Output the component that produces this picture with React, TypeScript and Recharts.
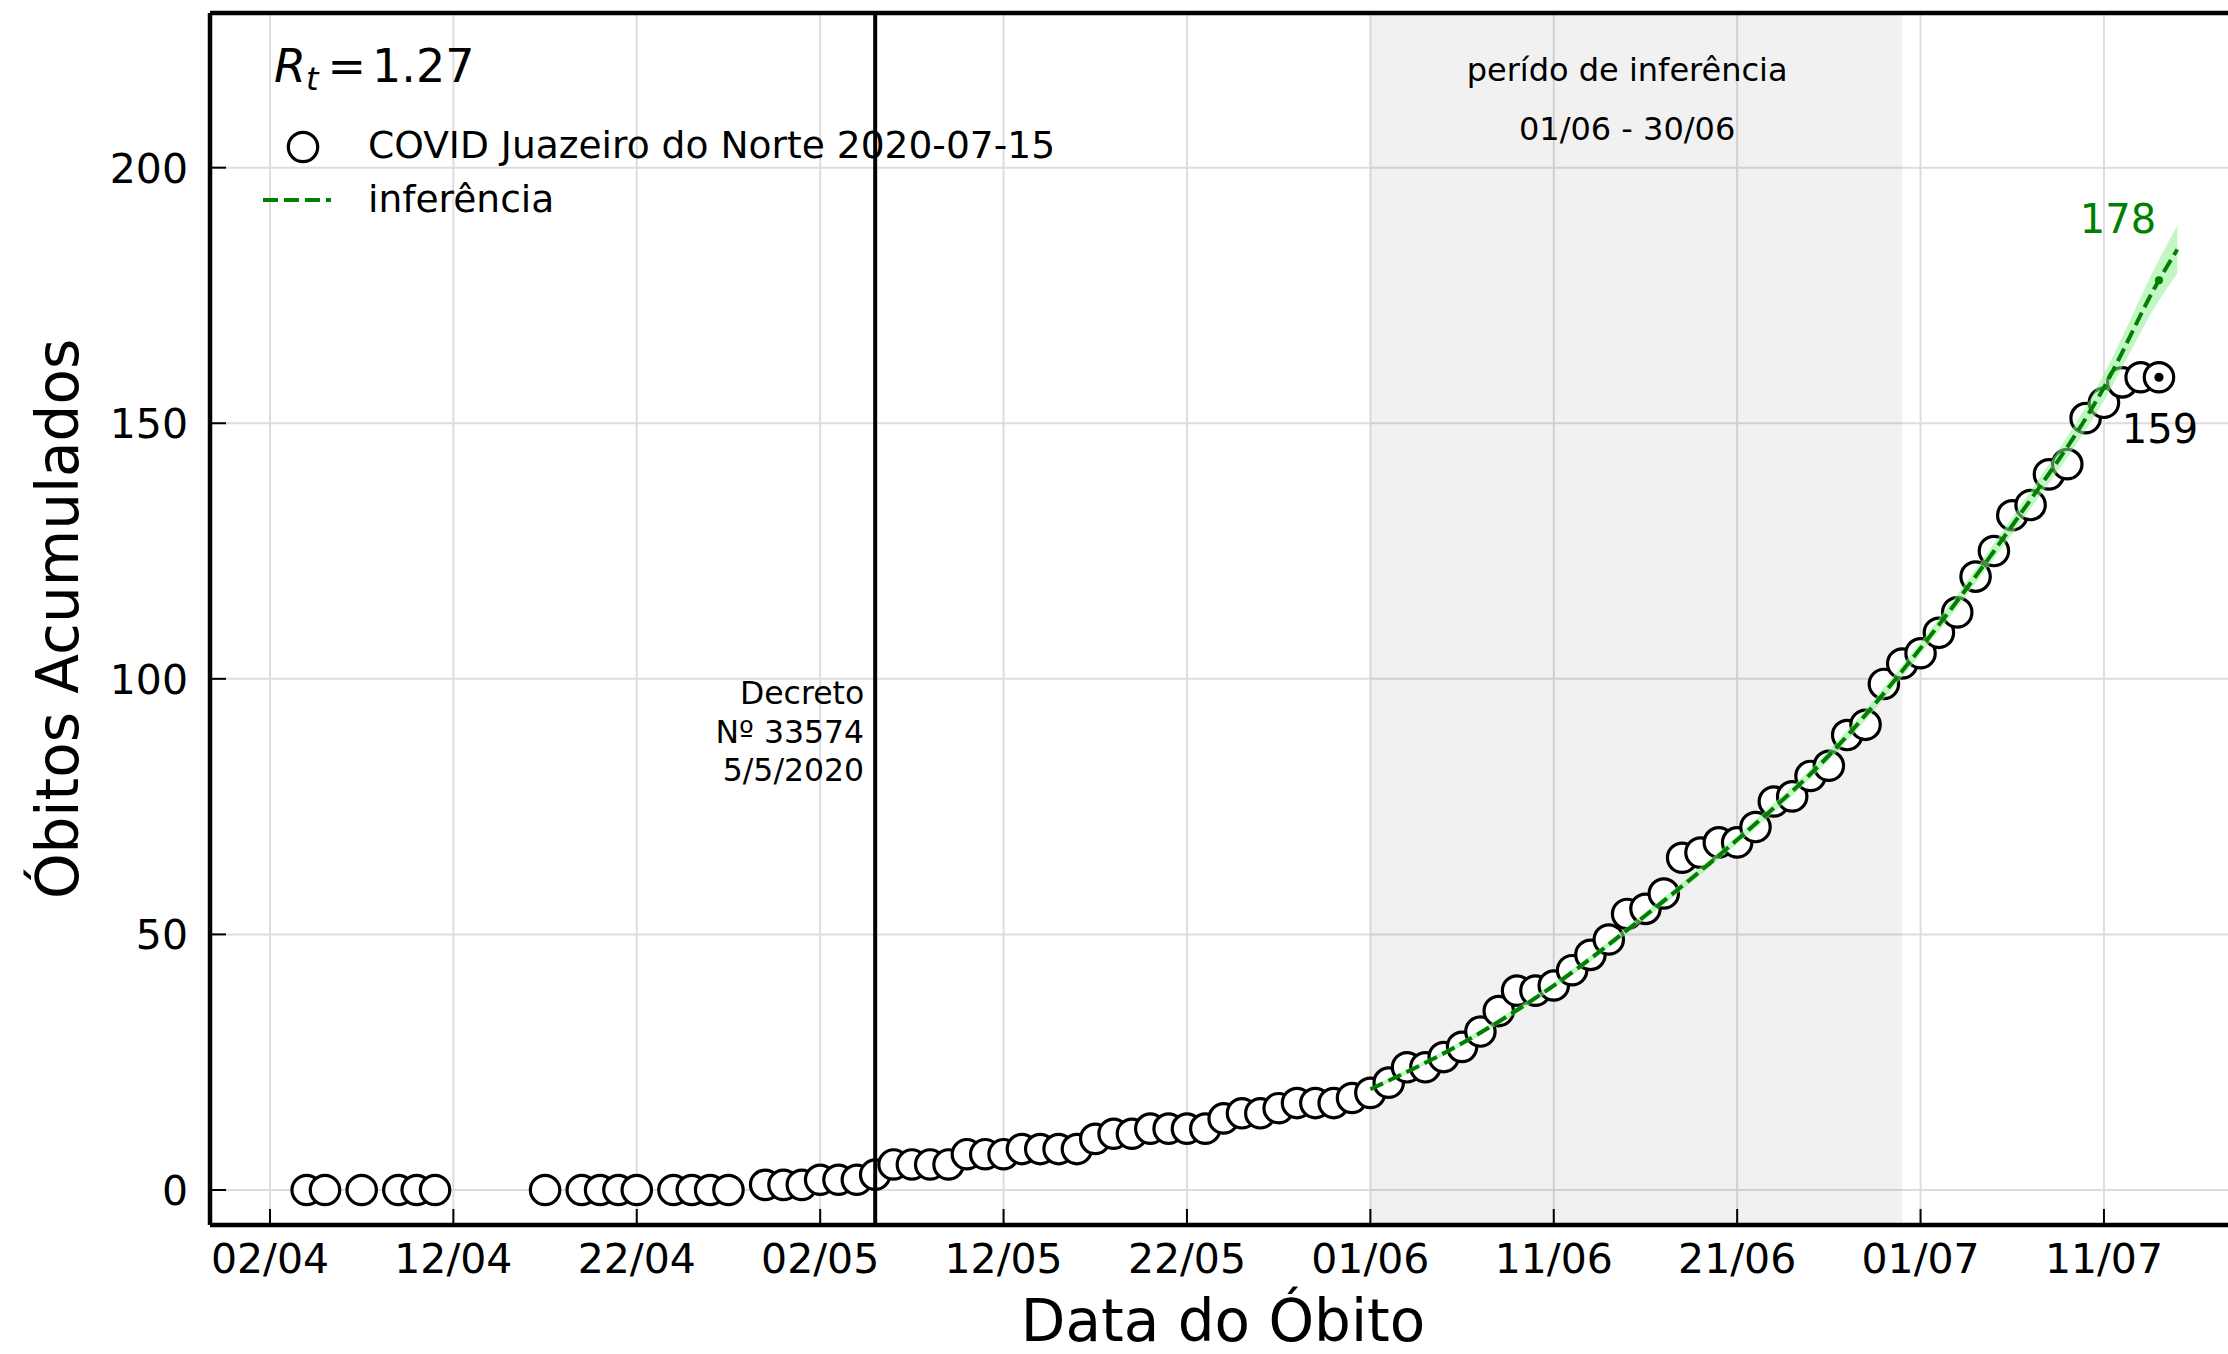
import {
  Area,
  CartesianGrid,
  ComposedChart,
  Legend,
  Line,
  ReferenceArea,
  ReferenceDot,
  ReferenceLine,
  Scatter,
  XAxis,
  YAxis,
} from "recharts";

const FONT = "DejaVu Sans";
const FIT_GREEN = "#008000";
const MARKER_R = 14.7;

// dd/mm (2020) -> days since 01/04
const MONTH_START: Record<string, number> = { "04": 0, "05": 30, "06": 61, "07": 91 };
const dayOf = (ddmm: string) => MONTH_START[ddmm.slice(3)] + Number(ddmm.slice(0, 2)) - 1;

// cumulative deaths by date of death
const OBS_DATES = [
  "04/04", "05/04", "07/04", "09/04", "10/04", "11/04", "17/04", "19/04", "20/04", "21/04",
  "22/04", "24/04", "25/04", "26/04", "27/04", "29/04", "30/04",
  "01/05", "02/05", "03/05", "04/05", "05/05", "06/05", "07/05", "08/05", "09/05", "10/05",
  "11/05", "12/05", "13/05", "14/05", "15/05", "16/05", "17/05", "18/05", "19/05", "20/05",
  "21/05", "22/05", "23/05", "24/05", "25/05", "26/05", "27/05", "28/05", "29/05", "30/05", "31/05",
  "01/06", "02/06", "03/06", "04/06", "05/06", "06/06", "07/06", "08/06", "09/06", "10/06",
  "11/06", "12/06", "13/06", "14/06", "15/06", "16/06", "17/06", "18/06", "19/06", "20/06",
  "21/06", "22/06", "23/06", "24/06", "25/06", "26/06", "27/06", "28/06", "29/06", "30/06",
  "01/07", "02/07", "03/07", "04/07", "05/07", "06/07", "07/07", "08/07", "09/07", "10/07",
  "11/07", "12/07", "13/07", "14/07",
];
const OBS_DEATHS = [
  0, 0, 0, 0, 0, 0, 0, 0, 0, 0,
  0, 0, 0, 0, 0, 1, 1,
  1, 2, 2, 2, 3, 5, 5, 5, 5, 7,
  7, 7, 8, 8, 8, 8, 10, 11, 11, 12,
  12, 12, 12, 14, 15, 15, 16, 17, 17, 17, 18,
  19, 21, 24, 24, 26, 28, 31, 35, 39, 39,
  40, 43, 46, 49, 54, 55, 58, 65, 66, 68,
  68, 71, 76, 77, 81, 83, 89, 91, 99, 103,
  105, 109, 113, 120, 125, 132, 134, 140, 142, 151,
  154, 158, 159, 159,
];

// fitted curve (Rt model) with its uncertainty band
const FIT_DATES = ["01/06", "06/06", "11/06", "16/06", "21/06", "26/06", "01/07", "06/07", "11/07", "14/07", "15/07"];
const FIT_VALUES = [19.7, 28.7, 40, 53.7, 68.5, 85, 106, 130, 157, 178, 184];
const BAND_LOW = [19.3, 28.2, 39.4, 53.0, 67.7, 84.0, 104.8, 128.4, 154.4, 174.0, 179.3];
const BAND_HIGH = [20.1, 29.2, 40.6, 54.4, 69.3, 86.0, 107.2, 131.6, 159.6, 182.0, 188.7];

const X_TICK_LABELS = ["02/04", "12/04", "22/04", "02/05", "12/05", "22/05", "01/06", "11/06", "21/06", "01/07", "11/07"];
const X_TICK_DAYS = X_TICK_LABELS.map(dayOf);
const Y_TICKS = [0, 50, 100, 150, 200];
const X_DOMAIN: [number, number] = [-2.27, 108.2];
const Y_DOMAIN: [number, number] = [-6.85, 230.26];

const RT_VALUE = 1.27;
const LEGEND_OBS = "COVID Juazeiro do Norte 2020-07-15";
const LEGEND_FIT = "inferência";
const PERIOD_START = "01/06";
const PERIOD_END = "30/06";
const DECREE_DATE = "05/05";
const DECREE_LINES = ["Decreto", "Nº 33574", "5/5/2020"];

const OBS_ROWS = OBS_DATES.map((d, i) => ({ day: dayOf(d), deaths: OBS_DEATHS[i] }));
const FIT_ROWS = FIT_DATES.map((d, i) => ({
  day: dayOf(d),
  fit: FIT_VALUES[i],
  band: [BAND_LOW[i], BAND_HIGH[i]],
}));

const LAST_OBS = OBS_ROWS[OBS_ROWS.length - 1];
const FIT_AT_LAST = FIT_ROWS.find((r) => r.day === LAST_OBS.day)!;

const X_TICK_MARGIN = 48;
const Y_TICK_MARGIN = 22;
const TICK_LEN = 16;
const TICK_FONT = 41;

function XTick({ x, y, payload }: any) {
  const axisY = y - X_TICK_MARGIN;
  return (
    <g>
      <line x1={x} x2={x} y1={axisY} y2={axisY - TICK_LEN} stroke="#000" strokeWidth={2} />
      <text x={x} y={y} textAnchor="middle" fontSize={TICK_FONT} fill="#000">
        {X_TICK_LABELS[X_TICK_DAYS.indexOf(payload.value)]}
      </text>
    </g>
  );
}

function YTick({ x, y, payload }: any) {
  const axisX = x + Y_TICK_MARGIN;
  return (
    <g>
      <line x1={axisX} x2={axisX + TICK_LEN} y1={y} y2={y} stroke="#000" strokeWidth={2} />
      <text x={x} y={y + 15} textAnchor="end" fontSize={TICK_FONT} fill="#000">
        {payload.value}
      </text>
    </g>
  );
}

const XTitle = ({ viewBox }: any) => (
  <text x={viewBox.x + viewBox.width / 2} y={viewBox.y + 116} textAnchor="middle" fontSize={58} fill="#000">
    Data do Óbito
  </text>
);

const YTitle = ({ viewBox }: any) => {
  const cx = viewBox.x + 78;
  const cy = viewBox.y + viewBox.height / 2;
  return (
    <text x={cx} y={cy} transform={`rotate(-90 ${cx} ${cy})`} textAnchor="middle" fontSize={58} fill="#000">
      Óbitos Acumulados
    </text>
  );
};

const center = (vb: any) => ({ cx: vb.x + vb.width / 2, cy: vb.y + vb.height / 2 });

const PeriodLabel = ({ viewBox }: any) => {
  const { cx, cy } = center(viewBox);
  return (
    <g fontSize={32} fill="#000" textAnchor="middle">
      <text x={cx} y={cy - 29}>perído de inferência</text>
      <text x={cx} y={cy + 30}>{`${PERIOD_START} - ${PERIOD_END}`}</text>
    </g>
  );
};

const DecreeLabel = ({ viewBox }: any) => {
  const { cx, cy } = center(viewBox);
  return (
    <g fontSize={31.5} fill="#000" textAnchor="end">
      {DECREE_LINES.map((t, i) => (
        <text key={t} x={cx - 11} y={cy - 27.5 + i * 38.5}>
          {t}
        </text>
      ))}
    </g>
  );
};

const FitEndLabel = ({ viewBox }: any) => {
  const { cx, cy } = center(viewBox);
  return (
    <text x={cx - 41} y={cy - 47.5} textAnchor="middle" fontSize={40} fill={FIT_GREEN}>
      {FIT_AT_LAST.fit}
    </text>
  );
};

const LastObsLabel = ({ viewBox }: any) => {
  const { cx, cy } = center(viewBox);
  return (
    <text x={cx + 1} y={cy + 66} textAnchor="middle" fontSize={40} fill="#000">
      {LAST_OBS.deaths}
    </text>
  );
};

const LegendBox = () => (
  <svg width={820} height={210} style={{ display: "block", overflow: "visible" }}>
    <text x={24} y={62} fontSize={46} fill="#000">
      <tspan fontStyle="italic">R</tspan>
      <tspan fontStyle="italic" fontSize={32} dy={8}>
        t
      </tspan>
      <tspan dx={9} dy={-8}>
        =
      </tspan>
      <tspan dx={6}>{RT_VALUE.toFixed(2)}</tspan>
    </text>
    <circle cx={53} cy={127} r={MARKER_R} fill="#fff" stroke="#000" strokeWidth={3.2} />
    <text x={118} y={138} fontSize={37.6} fill="#000">
      {LEGEND_OBS}
    </text>
    <line x1={13} x2={81} y1={180} y2={180} stroke={FIT_GREEN} strokeWidth={4} strokeDasharray="15 6" />
    <text x={118} y={192} fontSize={37.6} fill="#000">
      {LEGEND_FIT}
    </text>
  </svg>
);

const Marker = (p: any) => (
  <circle cx={p.cx} cy={p.cy} r={MARKER_R} fill="#fff" stroke="#000" strokeWidth={3.2} />
);

export default function App() {
  return (
    <div
      style={{
        position: "absolute",
        left: 0,
        top: 0,
        width: 2228,
        height: 1354,
        overflow: "hidden",
        background: "#fff",
        fontFamily: FONT,
      }}
    >
      <ComposedChart width={2250} height={1354} data={FIT_ROWS} margin={{ top: 13, right: 14, bottom: 0, left: 0 }}>
        <ReferenceArea
          x1={dayOf(PERIOD_START)}
          x2={dayOf(PERIOD_END)}
          fill="#000"
          fillOpacity={0.055}
          stroke="none"
          zIndex={-50}
        />
        <CartesianGrid stroke="#dddddd" strokeWidth={2} zIndex={-100} />
        <XAxis
          type="number"
          dataKey="day"
          domain={X_DOMAIN}
          allowDataOverflow
          ticks={X_TICK_DAYS}
          interval={0}
          height={129}
          tickSize={0}
          tickMargin={X_TICK_MARGIN}
          tickLine={false}
          axisLine={{ stroke: "#000", strokeWidth: 4.5 }}
          tick={XTick}
          label={{ content: XTitle }}
        />
        <YAxis
          type="number"
          domain={Y_DOMAIN}
          allowDataOverflow
          ticks={Y_TICKS}
          interval={0}
          width={210}
          tickSize={0}
          tickMargin={Y_TICK_MARGIN}
          tickLine={false}
          axisLine={{ stroke: "#000", strokeWidth: 4.5 }}
          tick={YTick}
          label={{ content: YTitle }}
        />
        <ReferenceLine y={Y_DOMAIN[1]} stroke="#000" strokeWidth={4.5} zIndex={500} />
        <Scatter data={OBS_ROWS} dataKey="deaths" shape={Marker} isAnimationActive={false} zIndex={50} />
        <Area
          dataKey="band"
          type="monotone"
          fill="#90ee90"
          fillOpacity={0.55}
          stroke="none"
          isAnimationActive={false}
          zIndex={100}
        />
        <Line
          dataKey="fit"
          type="monotone"
          stroke={FIT_GREEN}
          strokeWidth={4}
          strokeDasharray="14 6"
          dot={false}
          activeDot={false}
          isAnimationActive={false}
          zIndex={400}
        />
        <ReferenceLine x={dayOf(DECREE_DATE)} stroke="#000" strokeWidth={4} zIndex={450} />
        <ReferenceDot x={dayOf(DECREE_DATE)} y={89.6} r={0} fill="none" stroke="none" label={{ content: DecreeLabel }} />
        <ReferenceDot x={dayOf("15/06")} y={211.3} r={0} fill="none" stroke="none" label={{ content: PeriodLabel }} />
        <ReferenceDot
          x={FIT_AT_LAST.day}
          y={FIT_AT_LAST.fit}
          r={4}
          fill={FIT_GREEN}
          stroke="none"
          zIndex={700}
          label={{ content: FitEndLabel }}
        />
        <ReferenceDot
          x={LAST_OBS.day}
          y={LAST_OBS.deaths}
          r={4.6}
          fill="#000"
          stroke="none"
          zIndex={700}
          label={{ content: LastObsLabel }}
        />
        <Legend
          content={LegendBox}
          layout="vertical"
          align="center"
          verticalAlign="middle"
          wrapperStyle={{ left: 250, top: 20, width: 820, height: 210 }}
        />
      </ComposedChart>
    </div>
  );
}
